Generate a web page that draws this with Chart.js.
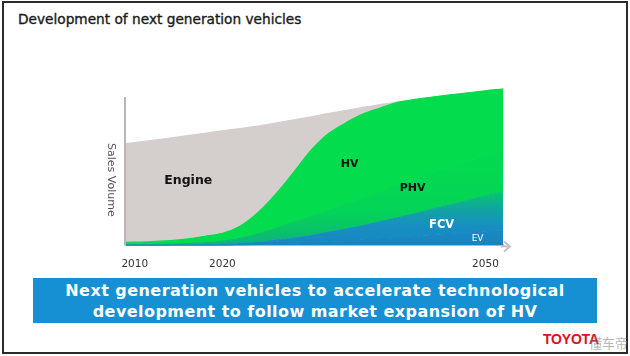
<!DOCTYPE html>
<html>
<head>
<meta charset="utf-8">
<script src="https://cdn.jsdelivr.net/npm/chart.js@4.4.1/dist/chart.umd.min.js"></script>
<style>
  html, body { margin:0; padding:0; background:#fff; }
  body { width:630px; height:356px; position:relative; overflow:hidden; font-family:"DejaVu Sans", sans-serif; }
  #frame { position:absolute; left:2px; top:1px; width:622px; height:349px; border:2px solid #2a2a2a; }
  #title { position:absolute; left:18px; top:11px; font-size:13.7px; color:#1a1a1a; -webkit-text-stroke:0.35px #1a1a1a; white-space:nowrap; }
  #chartBox { position:absolute; left:0; top:0; width:630px; height:296px; }
  #ytitle { position:absolute; left:105px; top:143px; writing-mode:vertical-rl; font-size:11px; color:#555; white-space:nowrap; }
  #banner { position:absolute; left:33px; top:278px; width:564px; height:45px; background:#1690d2; color:#fff; font-weight:bold; font-size:16px; text-align:center; line-height:21px; padding-top:2px; box-sizing:border-box; letter-spacing:0.45px; }
  #logo { position:absolute; left:543px; top:331px; color:#e0101e; font-weight:bold; font-size:14px; font-family:"Liberation Sans", sans-serif; letter-spacing:-0.2px; }
  #wm { position:absolute; left:589px; top:333px; color:rgba(120,120,120,0.55); font-size:13px; font-family:"Noto Sans CJK SC", sans-serif; }
</style>
</head>
<body>
<div id="frame"></div>
<div id="title">Development of next generation vehicles</div>
<div id="chartBox"><canvas id="c"></canvas></div>
<div id="ytitle">Sales Volume</div>
<div id="banner">Next generation vehicles to accelerate technological<br>development to follow market expansion of HV</div>
<div id="logo">TOYOTA</div>
<div id="wm">懂车帝</div>
<script>
// ---- data (schematic sales volume units) ----
const years  = [2009, 2012, 2015, 2018, 2020, 2022, 2024, 2026, 2028, 2030, 2032, 2034, 2036, 2038, 2040, 2042, 2044, 2046, 2048, 2050, 2052];
const evVals     = [0, 0, 0, 0, 0, 0.3, 0.6, 1.0, 1.5, 2.0, 2.6, 3.2, 3.8, 4.5, 5.2, 6.0, 6.8, 7.6, 8.4, 9.2, 10.0];
const fcvVals    = [0, 0, 0.1, 0.3, 0.5, 0.9, 1.5, 2.3, 3.3, 4.5, 6.0, 7.6, 9.4, 11.3, 13.3, 15.4, 17.6, 19.8, 22.0, 24.2, 26.0];
const phvVals    = [0.3, 0.5, 0.9, 1.6, 2.2, 3.5, 5.5, 8.0, 10.5, 13.0, 15.0, 17.0, 18.8, 20.5, 22.0, 23.3, 24.5, 25.6, 26.6, 27.5, 28.3];
const hvVals     = [1.7, 2.0, 2.7, 4.2, 5.5, 8.2, 14.2, 22.7, 33.0, 43.8, 51.2, 54.5, 56.4, 56.2, 55.8, 53.6, 51.0, 48.4, 45.7, 43.2, 40.9];
const engineVals = [66.5, 68.2, 69.4, 69.4, 69.0, 65.8, 58.5, 48.3, 36.1, 23.1, 14.0, 8.5, 4.5, 2.4, 0.3, 0, 0, 0, 0, 0, 0];
const tickYears  = [2010, 2020, 2050];
const axisTopValue = 100;
const labelNames  = ['Engine', 'HV', 'PHV', 'FCV', 'EV'];
const labelYears  = [2016.1, 2034.5, 2041.7, 2045.0, 2049.1];
const labelValues = [43.5, 54.4, 38.8, 13.9, 4.8];

const labelStyles = [
  {font:'bold 12.5px "DejaVu Sans"', color:'#111'},
  {font:'bold 11px "DejaVu Sans"', color:'#111'},
  {font:'bold 11px "DejaVu Sans"', color:'#111'},
  {font:'bold 11.5px "DejaVu Sans"', color:'#fff'},
  {font:'9px "DejaVu Sans"', color:'#fff'}
];

// vertical gradient defined by stops in value units
function vgrad(c, stops) {
  const chart = c.chart, ca = chart.chartArea, y = chart.scales.y;
  if (!ca || !y) return stops[0][1];
  const top = y.getPixelForValue(stops[stops.length-1][0]);
  const bot = y.getPixelForValue(stops[0][0]);
  const g = chart.ctx.createLinearGradient(0, bot, 0, top);
  stops.forEach(s => g.addColorStop((s[0]-stops[0][0])/(stops[stops.length-1][0]-stops[0][0]), s[1]));
  return g;
}

const areaLabels = {
  id: 'areaLabels',
  afterDatasetsDraw(chart) {
    const {ctx, scales:{x, y}} = chart;
    ctx.save();
    ctx.textAlign = 'center';
    ctx.textBaseline = 'middle';
    labelNames.forEach((t, i) => {
      ctx.font = labelStyles[i].font;
      ctx.fillStyle = labelStyles[i].color;
      ctx.fillText(t, x.getPixelForValue(labelYears[i]), y.getPixelForValue(labelValues[i]));
    });
    ctx.restore();
  }
};

const axisDeco = {
  id: 'axisDeco',
  afterDraw(chart) {
    const {ctx, chartArea:ca, scales:{y}} = chart;
    ctx.save();
    ctx.strokeStyle = '#bdb6b6';
    ctx.lineWidth = 2;
    ctx.beginPath();
    ctx.moveTo(ca.left - 1, y.getPixelForValue(axisTopValue));
    ctx.lineTo(ca.left - 1, ca.bottom);
    ctx.stroke();
    ctx.strokeStyle = '#c9bfbf';
    ctx.beginPath();
    ctx.moveTo(ca.right - 2, ca.bottom + 1);
    ctx.lineTo(ca.right + 6, ca.bottom + 1);
    ctx.stroke();
    ctx.beginPath();
    ctx.moveTo(ca.right + 1, ca.bottom - 4);
    ctx.lineTo(ca.right + 7, ca.bottom + 1);
    ctx.lineTo(ca.right + 1, ca.bottom + 6);
    ctx.stroke();
    ctx.restore();
  }
};

function ds(label, data, bg, fill) {
  return {
    label, data: data.map((v, i) => ({x: years[i], y: v})),
    backgroundColor: bg, borderColor: bg, borderWidth: 1.2, pointRadius: 0, fill,
    cubicInterpolationMode: 'monotone'
  };
}

const evFill  = c => vgrad(c, [[0,'#1683bf'],[15,'#1a8cc4']]);
const fcvFill = c => vgrad(c, [[0,'#1687c2'],[14,'#188fc0'],[26,'#10a99a'],[36,'#08c66a']]);
const phvFill = c => vgrad(c, [[0,'#0fb08a'],[8,'#0abf6c'],[22,'#05d358'],[60,'#03da4f']]);

new Chart(document.getElementById('c'), {
  type: 'line',
  data: {
    datasets: [
      ds('EV', evVals, evFill, 'origin'),
      ds('FCV', fcvVals, fcvFill, '-1'),
      ds('PHV', phvVals, phvFill, '-1'),
      ds('HV', hvVals, '#03dc4d', '-1'),
      ds('Engine', engineVals, '#d4cfcc', '-1')
    ]
  },
  options: {
    responsive: true, maintainAspectRatio: false, animation: false,
    layout: { padding: { left: 126, right: 127, top: 88, bottom: 12 } },
    plugins: { legend: { display: false }, tooltip: { enabled: false } },
    scales: {
      x: {
        type: 'linear', min: 2009, max: 2052,
        afterBuildTicks: s => { s.ticks = tickYears.map(v => ({value: v})); },
        ticks: { callback: v => String(v), color: '#333', font: { family: 'DejaVu Sans', size: 10.5 }, padding: 13, maxRotation: 0, autoSkip: false },
        grid: { display: false, drawTicks: false },
        border: { display: true, color: '#c9bfbf', width: 2 }
      },
      y: {
        stacked: true, min: 0, max: 106,
        ticks: { display: false },
        grid: { display: false, drawTicks: false },
        border: { display: false }
      }
    }
  },
  plugins: [areaLabels, axisDeco]
});
</script>
</body>
</html>
